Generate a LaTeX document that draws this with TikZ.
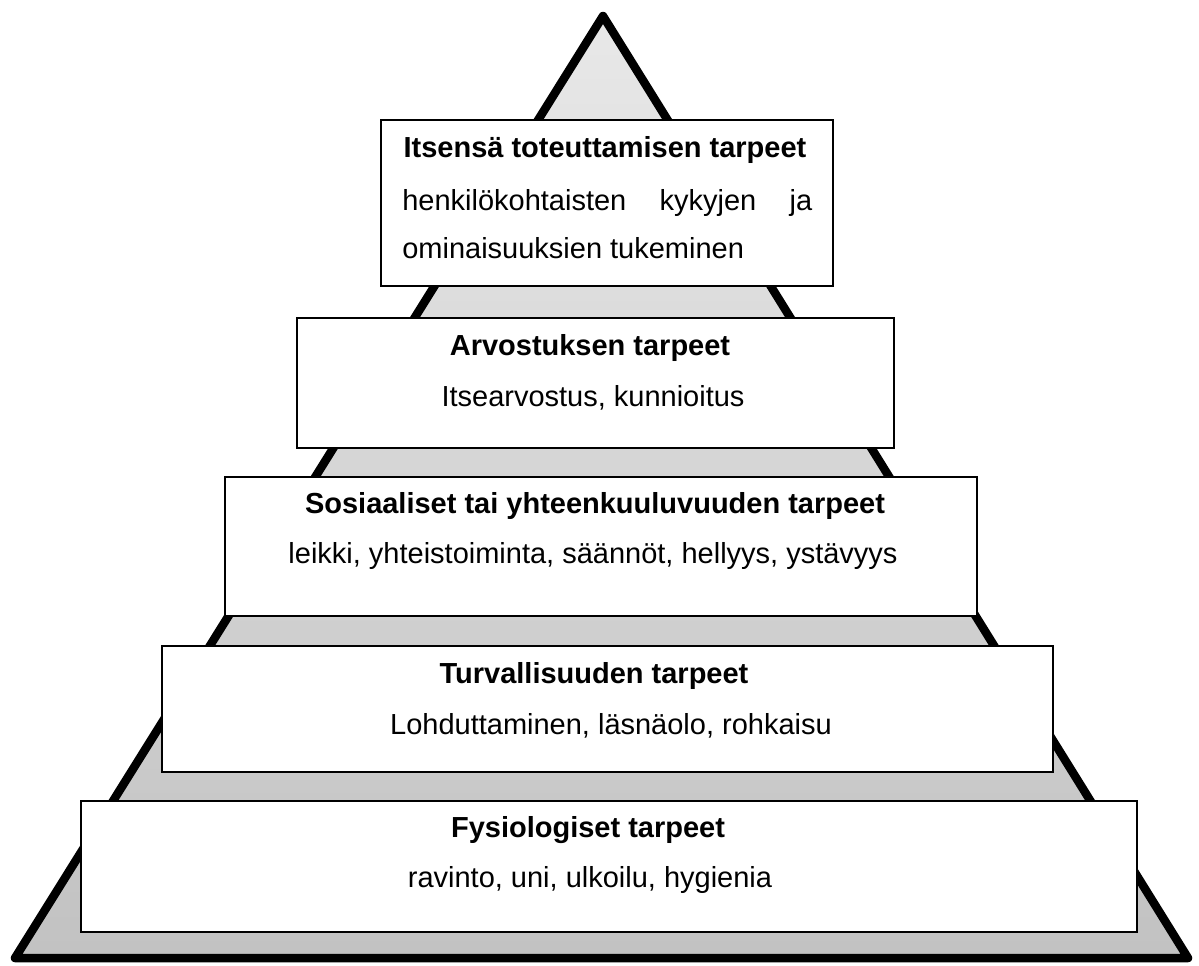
\documentclass[tikz,border=0pt]{standalone}
\usepackage{fontspec}
\setmainfont{Liberation Sans}
\definecolor{pyrtop}{gray}{0.91}
\definecolor{pyrbot}{gray}{0.76}
\tikzset{
  lvl/.style={draw, fill=white, line width=0.85pt, inner sep=0pt},
  ttl/.style={font=\fontsize{16.5pt}{20pt}\selectfont\bfseries, anchor=base, inner sep=0pt},
  txt/.style={font=\fontsize{16.5pt}{20pt}\selectfont, anchor=base, inner sep=0pt}
}
\begin{document}
\begin{tikzpicture}[x=0.02cm,y=-0.02cm]
\useasboundingbox (0,0) rectangle (1199,965);
\coordinate (ap) at (603,16);
\coordinate (bl) at (15,958);
\coordinate (br) at (1188,958);
\shade[top color=pyrtop, bottom color=pyrbot] (ap) -- (bl) -- (br) -- cycle;
\draw[line width=0.17cm, line join=round] (ap) -- (bl) -- (br) -- cycle;
\node[lvl, minimum width=9.04cm, minimum height=3.32cm] (l5) at (607,203) {};
\node[lvl, minimum width=11.94cm, minimum height=2.6cm] (l4) at (595.5,383) {};
\node[lvl, minimum width=15.04cm, minimum height=2.78cm] (l3) at (601,546.5) {};
\node[lvl, minimum width=17.82cm, minimum height=2.52cm] (l2) at (607.5,709) {};
\node[lvl, minimum width=21.12cm, minimum height=2.62cm] (l1) at (609,866.5) {};
\node[ttl] (t5) at (605,157) {Itsensä toteuttamisen tarpeet};
\node[txt, anchor=base west] (a5) at (402,210) {\makebox[8.2cm][s]{henkilökohtaisten kykyjen ja}};
\node[txt, anchor=base west] (b5) at (402,258) {ominaisuuksien tukeminen};
\node[ttl] (t4) at (590,355) {Arvostuksen tarpeet};
\node[txt] (a4) at (593,406) {Itsearvostus, kunnioitus};
\node[ttl] (t3) at (595,513) {Sosiaaliset tai yhteenkuuluvuuden tarpeet};
\node[txt] (a3) at (593,563) {leikki, yhteistoiminta, säännöt, hellyys, ystävyys};
\node[ttl] (t2) at (594,683) {Turvallisuuden tarpeet};
\node[txt] (a2) at (611,734) {Lohduttaminen, läsnäolo, rohkaisu};
\node[ttl] (t1) at (588,837) {Fysiologiset tarpeet};
\node[txt] (a1) at (590,887) {ravinto, uni, ulkoilu, hygienia};
\end{tikzpicture}
\end{document}
